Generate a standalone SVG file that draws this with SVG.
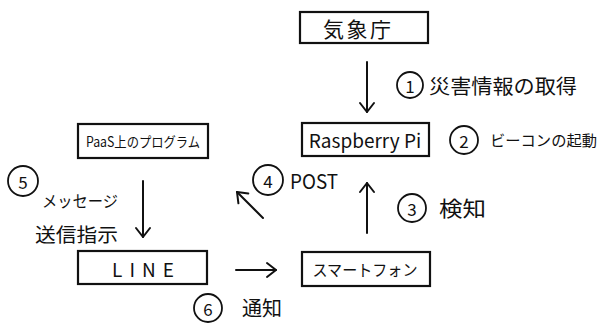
<svg xmlns="http://www.w3.org/2000/svg" width="597" height="325" viewBox="0 0 597 325">
<style>
.box{fill:#fff;stroke:#111;stroke-width:2.2}
.t{font-family:"Noto Sans CJK JP","Noto Sans",sans-serif;fill:#111;dominant-baseline:central;text-anchor:middle}
.l{font-family:"Noto Sans CJK JP","Noto Sans",sans-serif;fill:#111;dominant-baseline:central}
.c{fill:none;stroke:#111;stroke-width:1.8}
.a{fill:none;stroke:#111;stroke-width:2;stroke-linecap:round}
</style>
<defs>
<marker id="ah" markerUnits="userSpaceOnUse" markerWidth="20" markerHeight="20" refX="0" refY="0" viewBox="-12 -10 14 20" orient="auto" overflow="visible">
<path d="M -9 -7 L 0 0 L -9 7" fill="none" stroke="#111" stroke-width="2" stroke-linecap="round" stroke-linejoin="round"/>
</marker>
</defs>
<rect width="597" height="325" fill="#fff"/>
<g id="kishocho"><rect class="box" x="300" y="12" width="128" height="31"/><text class="t" x="366" y="28" font-size="21" letter-spacing="18" textLength="86" lengthAdjust="spacing">気象庁</text></g>
<g id="raspberrypi"><rect class="box" x="302" y="123" width="127" height="33"/><text class="t" x="365" y="139" font-size="19">Raspberry Pi</text></g>
<g id="paas"><rect class="box" x="78" y="124" width="130" height="34"/><text class="t" x="143" y="141" font-size="14" textLength="114" lengthAdjust="spacingAndGlyphs">PaaS上のプログラム</text></g>
<g id="line"><rect class="box" x="78" y="251" width="129" height="33"/><text class="t" x="143" y="268" font-size="19" textLength="62" lengthAdjust="spacing">LINE</text></g>
<g id="smartphone"><rect class="box" x="302" y="252" width="128" height="34"/><text class="t" x="365" y="269" font-size="16" textLength="105" lengthAdjust="spacingAndGlyphs">スマートフォン</text></g>
<g id="connectors">
<line class="a" x1="367" y1="62" x2="367" y2="112" marker-end="url(#ah)"/>
<line class="a" x1="367" y1="233" x2="367" y2="183" marker-end="url(#ah)"/>
<line class="a" x1="143" y1="181" x2="143" y2="237" marker-end="url(#ah)"/>
<line class="a" x1="236" y1="270" x2="276" y2="270" marker-end="url(#ah)"/>
<line class="a" x1="263" y1="218" x2="237" y2="192" marker-end="url(#ah)"/>
</g>
<g id="labels">
<circle class="c" cx="410" cy="85" r="13"/><text class="t" x="410" y="85" font-size="17">1</text>
<text class="l" x="429" y="85" font-size="20" textLength="148" lengthAdjust="spacingAndGlyphs">災害情報の取得</text>
<circle class="c" cx="464" cy="140" r="14"/><text class="t" x="464" y="140" font-size="17">2</text>
<text class="l" x="490" y="139" font-size="15" textLength="107" lengthAdjust="spacingAndGlyphs">ビーコンの起動</text>
<circle class="c" cx="412" cy="208" r="14"/><text class="t" x="412" y="208" font-size="17">3</text>
<text class="l" x="439" y="207" font-size="21" textLength="47" lengthAdjust="spacingAndGlyphs">検知</text>
<circle class="c" cx="268" cy="180" r="15"/><text class="t" x="268" y="180" font-size="17">4</text>
<text class="l" x="290" y="180" font-size="20" textLength="48" lengthAdjust="spacingAndGlyphs">POST</text>
<circle class="c" cx="23" cy="181" r="15"/><text class="t" x="23" y="181" font-size="17">5</text>
<text class="l" x="42" y="200" font-size="16" textLength="76" lengthAdjust="spacingAndGlyphs">メッセージ</text>
<text class="l" x="35" y="233" font-size="19" textLength="83" lengthAdjust="spacingAndGlyphs">送信指示</text>
<circle class="c" cx="208" cy="308" r="14"/><text class="t" x="208" y="308" font-size="17">6</text>
<text class="l" x="242" y="307" font-size="20" textLength="40" lengthAdjust="spacingAndGlyphs">通知</text>
</g>
</svg>
